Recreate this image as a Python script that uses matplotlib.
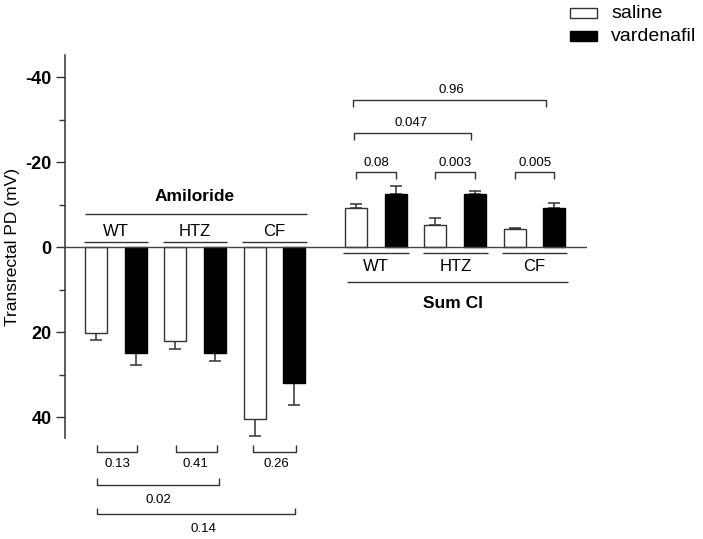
import matplotlib
matplotlib.use("Agg")
import matplotlib.pyplot as plt
import numpy as np
from matplotlib.patches import Rectangle

plt.rcParams['font.family'] = ['Liberation Sans', 'DejaVu Sans']

# ---- data ----
groups = ["WT", "HTZ", "CF"]
amil_saline = [20.1, 22.1, 40.4]
amil_saline_err = [1.8, 1.9, 4.0]
amil_vard = [25.0, 24.8, 32.0]
amil_vard_err = [2.8, 2.0, 5.2]
cl_saline = [-9.3, -5.3, -4.2]
cl_saline_err = [0.8, 1.6, 0.4]
cl_vard = [-12.6, -12.4, -9.2]
cl_vard_err = [1.8, 0.8, 1.3]
yticks = [-40, -20, 0, 20, 40]
p_top = ["0.08", "0.003", "0.005", "0.047", "0.96"]
p_bottom = ["0.13", "0.41", "0.26", "0.02", "0.14"]
series_names = ["saline", "vardenafil"]

LC = "#333333"
fig = plt.figure(figsize=(7.03, 5.39), dpi=100)
ax = fig.add_axes([65/703, 1-438/539, 522/703, 383/539])

left_x = np.arange(6, dtype=float)
right_x = 6.56 + np.arange(6, dtype=float)
w = 0.555

ls = left_x[0::2]; lv = left_x[1::2]
rs = right_x[0::2]; rv = right_x[1::2]
z = [0, 0, 0]
ax.bar(ls, amil_saline, w, color="white", edgecolor=LC, lw=1, zorder=3)
ax.bar(lv, amil_vard, w, color="black", edgecolor="black", lw=1, zorder=3)
ax.bar(rs, cl_saline, w, color="white", edgecolor=LC, lw=1, zorder=3)
ax.bar(rv, cl_vard, w, color="black", edgecolor="black", lw=1, zorder=3)
ek = dict(fmt="none", ecolor=LC, elinewidth=1.1, capsize=4.2, capthick=1.1, zorder=2)
ax.errorbar(ls, amil_saline, yerr=[z, amil_saline_err], **ek)
ax.errorbar(lv, amil_vard, yerr=[z, amil_vard_err], **ek)
ax.errorbar(rs, cl_saline, yerr=[cl_saline_err, z], **ek)
ax.errorbar(rv, cl_vard, yerr=[cl_vard_err, z], **ek)

ax.axhline(0, color="#444444", lw=1, zorder=4)

ax.set_xlim(-0.78, 12.38)
ax.set_ylim(44.9, -45.2)
ax.set_yticks(yticks)
ax.set_yticklabels([str(t) for t in yticks], fontsize=13, fontweight="bold")
ax.set_yticks([-30, -10, 10, 30], minor=True)
ax.tick_params(axis="y", which="major", length=6.5, width=1, color=LC, pad=3)
ax.tick_params(axis="y", which="minor", length=4.3, width=1, color=LC)
ax.set_xticks([])
for s in ["top", "right", "bottom"]:
    ax.spines[s].set_visible(False)
ax.spines["left"].set_color(LC)
ax.spines["left"].set_linewidth(1.1)
ax.set_ylabel("Transrectal PD (mV)", fontsize=12.5, va="center")
ax.yaxis.set_label_coords(-0.1015, 0.4987)

kw = dict(color=LC, lw=1, clip_on=False, solid_capstyle="butt")

# left group annotations
lc = [0.5, 2.5, 4.5]
for c, g in zip(lc, groups):
    ax.plot([c - 0.81, c + 0.81], [-1.1, -1.1], **kw)
    ax.text(c, -3.6, g, ha="center", va="center", fontsize=12, clip_on=False)
ax.plot([-0.28, 5.31], [-7.9, -7.9], **kw)
ax.text(2.5, -11.8, "Amiloride", ha="center", va="center", fontsize=12.5, fontweight="bold")

# right group annotations
rc = [7.06, 9.06, 11.06]
for c, g in zip(rc, groups):
    ax.plot([c - 0.82, c + 0.82], [1.3, 1.3], **kw)
    ax.text(c, 4.6, g, ha="center", va="center", fontsize=12, clip_on=False)
ax.plot([6.32, 11.91], [8.2, 8.2], **kw)
ax.text(9.0, 13.2, "Sum Cl", ha="center", va="center", fontsize=12.5, fontweight="bold")

def bracket(x0, x1, ybar, ytip, ytext, label, xt=None):
    ax.plot([x0, x0, x1, x1], [ytip, ybar, ybar, ytip], **kw)
    if xt is None:
        xt = (x0 + x1) / 2
    ax.text(xt, ytext, label, ha="center", va="center", fontsize=9.5, clip_on=False)

# top brackets
bracket(rs[0], rv[0], -17.7, -16.0, -19.7, p_top[0])
bracket(rs[1], rv[1], -17.7, -16.0, -19.7, p_top[1])
bracket(rs[2], rv[2], -17.7, -16.0, -19.7, p_top[2])
bracket(6.51, 9.45, -26.9, -25.2, -29.1, p_top[3], xt=7.94)
bracket(6.47, 11.35, -34.6, -33.0, -36.9, p_top[4], xt=8.97)

# bottom brackets
bracket(0.02, 1.04, 48.3, 46.6, 50.9, p_bottom[0], xt=0.55)
bracket(2.02, 3.04, 48.3, 46.6, 50.9, p_bottom[1], xt=2.5)
bracket(3.97, 5.04, 48.3, 46.6, 50.9, p_bottom[2], xt=4.56)
bracket(0.02, 3.11, 56.0, 54.4, 59.4, p_bottom[3], xt=1.57)
bracket(0.02, 5.02, 62.7, 61.3, 66.4, p_bottom[4], xt=2.71)

# legend (manual)
fig.patches.append(Rectangle((570/703, 1-18.3/539), 26.7/703, 10/539, transform=fig.transFigure,
                             facecolor="white", edgecolor=LC, lw=1))
fig.patches.append(Rectangle((570/703, 1-41/539), 26.7/703, 10/539, transform=fig.transFigure,
                             facecolor="black", edgecolor="black", lw=1))
fig.text(611/703, 1-13.3/539, series_names[0], fontsize=14, va="center", ha="left")
fig.text(611/703, 1-36/539, series_names[1], fontsize=14, va="center", ha="left")

fig.savefig("out.png", dpi=100)
